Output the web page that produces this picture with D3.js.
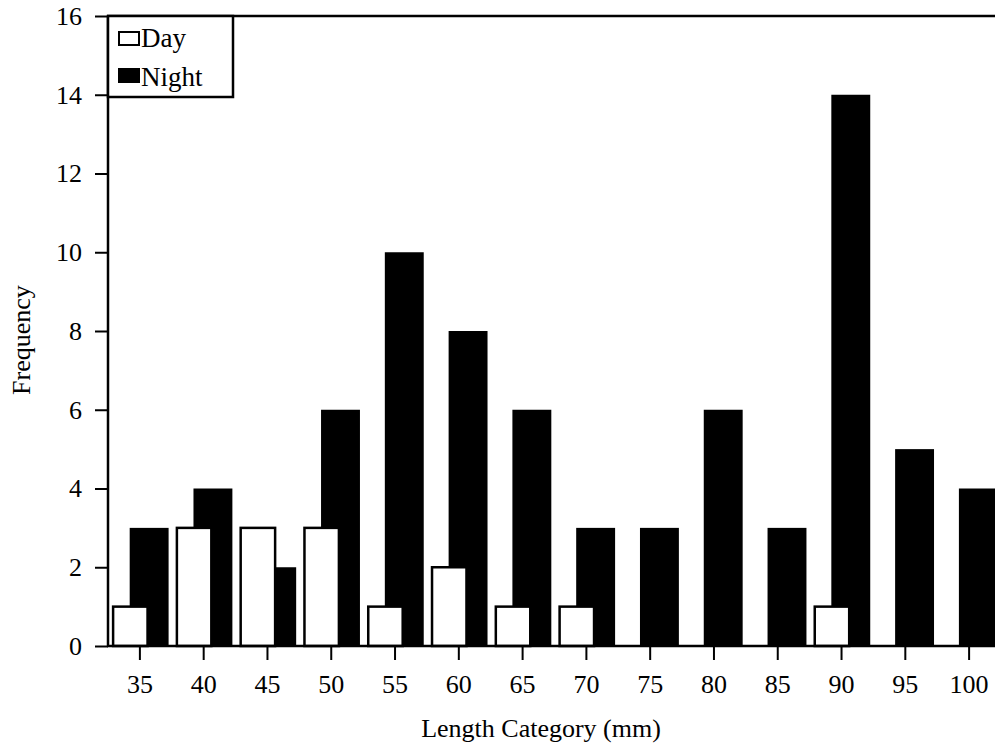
<!DOCTYPE html>
<html>
<head>
<meta charset="utf-8">
<script src="https://cdn.jsdelivr.net/npm/d3@7"></script>
<style>
  body { margin: 0; background: #fff; }
  svg text { font-family: "Liberation Serif", "Times New Roman", serif; fill: #000; }
</style>
</head>
<body>
<div id="chart"></div>
<script>
// data
const categories = ["35", "40", "45", "50", "55", "60", "65", "70", "75", "80", "85", "90", "95", "100"];
const dayValues = [1, 3, 3, 3, 1, 2, 1, 1, 0, 0, 0, 1, 0, 0];
const nightValues = [3, 4, 2, 6, 10, 8, 6, 3, 3, 6, 3, 14, 5, 4];
const yTicks = [0, 2, 4, 6, 8, 10, 12, 14, 16];

const width = 995, height = 745;
const margin = { top: 16, left: 108, bottom: 99 };
const plotRight = 1001;

const svg = d3.select("#chart").append("svg")
  .attr("width", width)
  .attr("height", height);

const x = d3.scaleBand()
  .domain(categories)
  .range([margin.left, plotRight])
  .padding(0);

const y = d3.scaleLinear()
  .domain([0, 16])
  .range([height - margin.bottom, margin.top]);

const bw = x.bandwidth();

// night bars sit behind
svg.append("g")
  .selectAll("rect")
  .data(categories)
  .join("rect")
  .attr("x", (d, i) => x(d) + 0.34 * bw)
  .attr("width", 0.61 * bw)
  .attr("y", (d, i) => y(nightValues[i]))
  .attr("height", (d, i) => y(0) - y(nightValues[i]))
  .attr("fill", "#000");

// day bars on top, white with black edge
svg.append("g")
  .selectAll("rect")
  .data(categories)
  .join("rect")
  .attr("x", (d, i) => x(d) + 0.08 * bw)
  .attr("width", 0.54 * bw)
  .attr("y", (d, i) => y(dayValues[i]))
  .attr("height", (d, i) => y(0) - y(dayValues[i]))
  .attr("fill", "#fff")
  .attr("stroke", "#000")
  .attr("stroke-width", 2.5);

// axes
const yAxis = svg.append("g")
  .attr("transform", `translate(${margin.left},0)`)
  .call(d3.axisLeft(y).tickValues(yTicks).tickSize(13).tickPadding(13));

const xAxis = svg.append("g")
  .attr("transform", `translate(0,${y(0)})`)
  .call(d3.axisBottom(x).tickSize(14).tickPadding(15));

[yAxis, xAxis].forEach(g => {
  g.select(".domain").remove();
  g.selectAll("line").attr("stroke", "#000").attr("stroke-width", 2);
  g.selectAll("text").style("font-size", "26px").attr("font-family", null);
});

// frame lines
svg.append("line")
  .attr("x1", margin.left).attr("x2", margin.left)
  .attr("y1", y(16)).attr("y2", y(0))
  .attr("stroke", "#000").attr("stroke-width", 2.5);
svg.append("line")
  .attr("x1", margin.left - 1).attr("x2", plotRight)
  .attr("y1", y(0)).attr("y2", y(0))
  .attr("stroke", "#000").attr("stroke-width", 2.5);
svg.append("line")
  .attr("x1", margin.left - 1).attr("x2", plotRight)
  .attr("y1", y(16)).attr("y2", y(16))
  .attr("stroke", "#000").attr("stroke-width", 2.5);

// axis titles
svg.append("text")
  .attr("x", 541)
  .attr("y", 737)
  .attr("text-anchor", "middle")
  .style("font-size", "26px")
  .text("Length Category (mm)");

svg.append("text")
  .attr("transform", "translate(30,340) rotate(-90)")
  .attr("text-anchor", "middle")
  .style("font-size", "26px")
  .text("Frequency");

// legend
const legend = svg.append("g");
legend.append("rect")
  .attr("x", margin.left).attr("y", margin.top)
  .attr("width", 125).attr("height", 81)
  .attr("fill", "#fff").attr("stroke", "#000").attr("stroke-width", 2.5);

const legendItems = [
  { name: "Day", fill: "#fff", y: 32, base: 47 },
  { name: "Night", fill: "#000", y: 69, base: 86 }
];
legend.selectAll("rect.sw")
  .data(legendItems)
  .join("rect")
  .attr("class", "sw")
  .attr("x", 119).attr("y", d => d.y)
  .attr("width", 20).attr("height", 13)
  .attr("fill", d => d.fill)
  .attr("stroke", "#000").attr("stroke-width", 2);
legend.selectAll("text")
  .data(legendItems)
  .join("text")
  .attr("x", 141).attr("y", d => d.base)
  .style("font-size", "27px")
  .text(d => d.name);
</script>
</body>
</html>
